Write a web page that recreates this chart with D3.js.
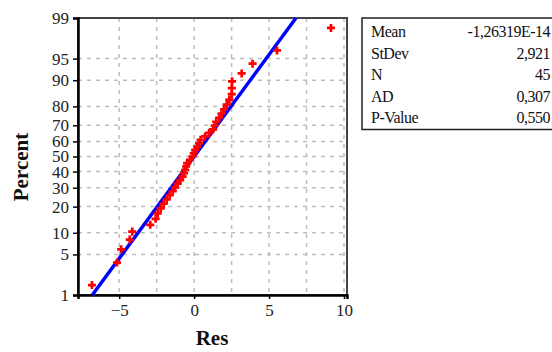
<!DOCTYPE html>
<html>
<head>
<meta charset="utf-8">
<script src="https://cdn.jsdelivr.net/npm/d3@7"></script>
<style>
  body { margin: 0; background: #fff; }
  text { font-family: "Liberation Serif", "DejaVu Serif", serif; }
</style>
</head>
<body>
<script>
var width = 552, height = 352;

// residuals, sorted
var residuals = [-6.82, -5.15, -4.87, -4.30, -4.13, -2.93, -2.57, -2.43, -2.23, -2.03,
                 -1.83, -1.63, -1.43, -1.27, -1.10, -0.93, -0.77, -0.67, -0.60, -0.53,
                 -0.47, -0.27, -0.10, -0.03, 0.07, 0.20, 0.33, 0.43, 0.73, 1.00,
                 1.27, 1.37, 1.47, 1.67, 1.83, 2.00, 2.17, 2.35, 2.51, 2.51,
                 2.53, 3.17, 3.90, 5.53, 9.13];
var yTicks = [1, 5, 10, 20, 30, 40, 50, 60, 70, 80, 90, 95, 99];
var yGrid = [5, 10, 20, 30, 40, 50, 60, 70, 80, 90, 95];
var xTicks = [-5, 0, 5, 10];
var xGrid = [-5, -2.5, 0, 2.5, 5, 7.5, 10];
var statLabels = ["Mean", "StDev", "N", "AD", "P-Value"];
var statValues = ["-1,26319E-14", "2,921", "45", "0,307", "0,550"];
var fitMean = 0, fitSd = 2.921;

// inverse normal cdf (Acklam)
function qnorm(p) {
    var a = [-39.69683028665376, 220.9460984245205, -275.9285104469687, 138.3577518672690, -30.66479806614716, 2.506628277459239],
        b = [-54.47609879822406, 161.5858368580409, -155.6989798598866, 66.80131188771972, -13.28068155288572],
        c = [-0.007784894002430293, -0.3223964580411365, -2.400758277161838, -2.549732539343734, 4.374664141464968, 2.938163982698783],
        d = [0.007784695709041462, 0.3224671290700398, 2.445134137142996, 3.754408661907416];
    var q, r;
    if (p < 0.02425) {
        q = Math.sqrt(-2 * Math.log(p));
        return (((((c[0]*q+c[1])*q+c[2])*q+c[3])*q+c[4])*q+c[5]) / ((((d[0]*q+d[1])*q+d[2])*q+d[3])*q+1);
    }
    if (p > 1 - 0.02425) {
        q = Math.sqrt(-2 * Math.log(1 - p));
        return -(((((c[0]*q+c[1])*q+c[2])*q+c[3])*q+c[4])*q+c[5]) / ((((d[0]*q+d[1])*q+d[2])*q+d[3])*q+1);
    }
    q = p - 0.5; r = q * q;
    return (((((a[0]*r+a[1])*r+a[2])*r+a[3])*r+a[4])*r+a[5])*q / (((((b[0]*r+b[1])*r+b[2])*r+b[3])*r+b[4])*r+1);
}

var n = residuals.length;
var points = residuals.map(function(v, i) {
    return { x: v, p: (i + 1 - 0.3) / (n + 0.4) * 100 };
});

var plotL = 78, plotR = 347, plotT = 18, plotB = 295;

var x = d3.scaleLinear().domain([-7.75, 10.2]).range([plotL, plotR]);
var z = d3.scaleLinear().domain([qnorm(0.01), qnorm(0.99)]).range([plotB, plotT]);
function y(pct) { return z(qnorm(pct / 100)); }

var svg = d3.select("body").append("svg")
    .attr("width", width)
    .attr("height", height);

// grid
svg.append("g").selectAll("line")
    .data(xGrid).enter().append("line")
    .attr("x1", function(d) { return x(d); })
    .attr("x2", function(d) { return x(d); })
    .attr("y1", plotT).attr("y2", plotB)
    .attr("stroke", "#bdbdbd").attr("stroke-width", 1.5)
    .attr("stroke-dasharray", "4,5");

svg.append("g").selectAll("line")
    .data(yGrid).enter().append("line")
    .attr("y1", function(d) { return y(d); })
    .attr("y2", function(d) { return y(d); })
    .attr("x1", plotL).attr("x2", plotR)
    .attr("stroke", "#bdbdbd").attr("stroke-width", 1.5)
    .attr("stroke-dasharray", "4,5");

// frame
svg.append("rect")
    .attr("x", plotL).attr("y", plotT)
    .attr("width", plotR - plotL).attr("height", plotB - plotT)
    .attr("fill", "none").attr("stroke", "#444").attr("stroke-width", 2);

// axes
var yAxis = d3.axisLeft(z)
    .tickValues(yTicks.map(function(t) { return qnorm(t / 100); }))
    .tickFormat(function(d, i) { return yTicks[i]; })
    .tickSize(5).tickPadding(4);
var gy = svg.append("g").attr("transform", "translate(" + plotL + ",0)").call(yAxis);

var xAxis = d3.axisBottom(x).tickValues(xTicks).tickSize(4).tickPadding(5);
var gx = svg.append("g").attr("transform", "translate(0," + plotB + ")").call(xAxis);

[gx, gy].forEach(function(g) {
    g.select(".domain").attr("stroke", "#000").attr("stroke-width", 2.5);
    g.selectAll(".tick line").attr("stroke", "#000").attr("stroke-width", 1.5);
    g.selectAll(".tick text")
        .attr("fill", "#222")
        .style("font-family", "'Liberation Serif', serif")
        .style("font-size", "17px");
});

// fitted line
var fit = [1, 99].map(function(pc) { return { x: fitMean + fitSd * qnorm(pc / 100), p: pc }; });
svg.append("path")
    .datum(fit)
    .attr("fill", "none")
    .attr("stroke", "#0000ff")
    .attr("stroke-width", 3.5)
    .attr("d", d3.line().x(function(d) { return x(d.x); }).y(function(d) { return y(d.p); }));

// points
svg.append("g").selectAll("path")
    .data(points).enter().append("path")
    .attr("transform", function(d) { return "translate(" + x(d.x) + "," + y(d.p) + ")"; })
    .attr("d", d3.symbol().type(d3.symbolCross).size(36))
    .attr("fill", "#ff0000");

// axis titles
svg.append("text")
    .attr("x", 212).attr("y", 345)
    .attr("text-anchor", "middle")
    .attr("font-weight", "bold").attr("font-size", 21)
    .attr("fill", "#111")
    .text("Res");

svg.append("text")
    .attr("transform", "translate(28,167) rotate(-90)")
    .attr("text-anchor", "middle")
    .attr("font-weight", "bold").attr("font-size", 21)
    .attr("fill", "#111")
    .text("Percent");

// stats box
var bx = 362, by = 18, rowH = 21.5;
svg.append("rect")
    .attr("x", bx).attr("y", by)
    .attr("width", 200).attr("height", rowH * statLabels.length + 4)
    .attr("fill", "#fff").attr("stroke", "#222").attr("stroke-width", 1.5);

var rows = svg.append("g").selectAll("g")
    .data(statLabels).enter().append("g")
    .attr("transform", function(d, i) { return "translate(0," + (by + 19 + i * rowH) + ")"; });

rows.append("text")
    .attr("x", bx + 9)
    .attr("font-size", 16).attr("fill", "#111")
    .attr("letter-spacing", "-0.5")
    .text(function(d) { return d; });

rows.append("text")
    .attr("x", 550)
    .attr("text-anchor", "end")
    .attr("font-size", 16).attr("fill", "#111")
    .attr("letter-spacing", "-0.5")
    .text(function(d, i) { return statValues[i]; });
</script>
</body>
</html>
